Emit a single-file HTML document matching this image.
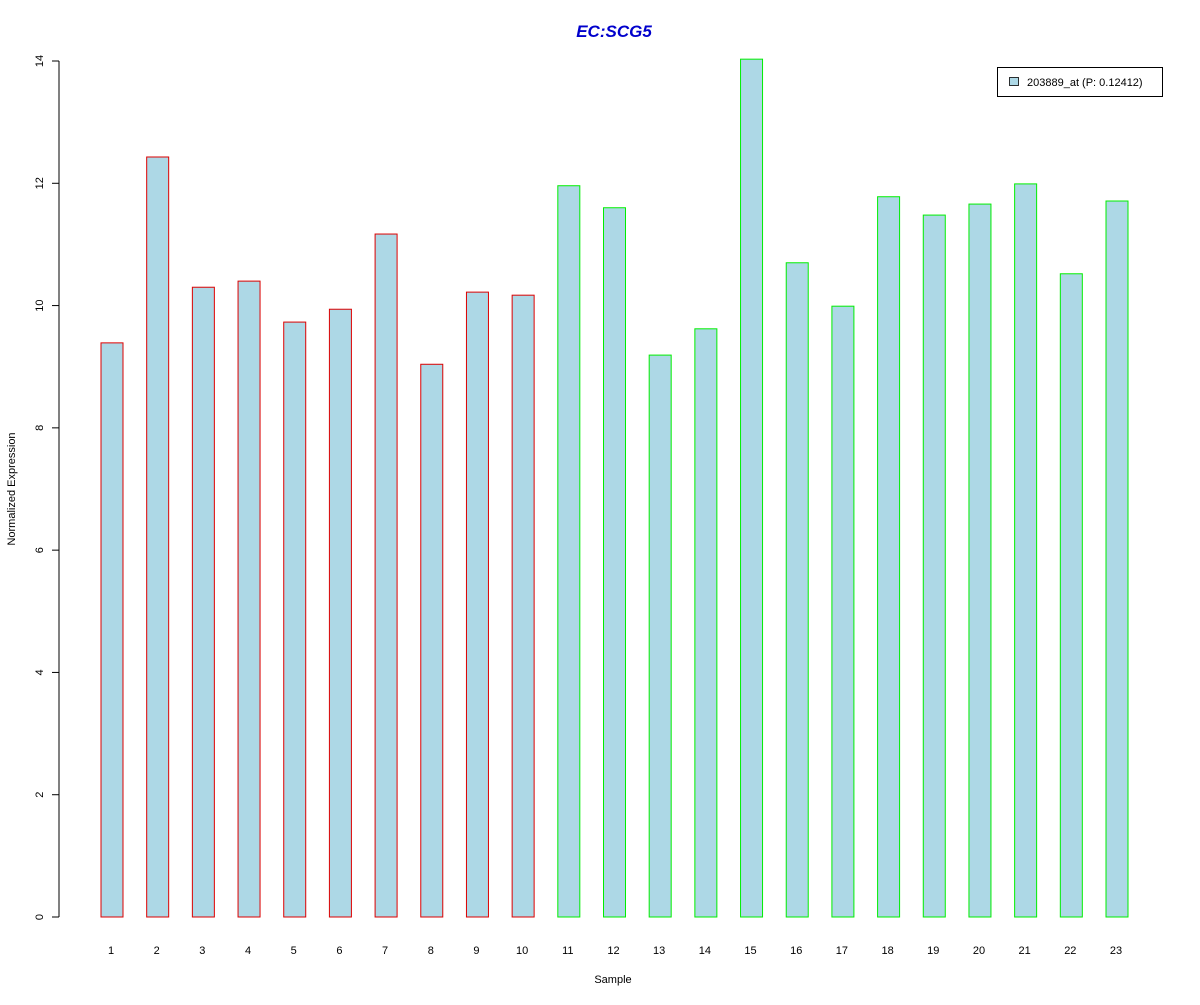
<!DOCTYPE html>
<html><head><meta charset="utf-8"><style>
body{margin:0;background:#fff;}
svg text{font-family:"Liberation Sans",Arial,sans-serif;}
</style></head><body>
<svg id="chart" width="1200" height="1000" xmlns="http://www.w3.org/2000/svg">
<rect width="1200" height="1000" fill="#fff"/>
<text x="614" y="37" text-anchor="middle" font-size="17" font-weight="bold" font-style="italic" fill="#0000cc">EC:SCG5</text>
<text transform="translate(15,489) rotate(-90)" text-anchor="middle" font-size="11">Normalized Expression</text>
<text x="613" y="983" text-anchor="middle" font-size="11">Sample</text>
<line x1="59" y1="61" x2="59" y2="917" stroke="#000"/>
<g id="yticks"></g>
<g id="bars"></g>
<g id="xlabels"></g>
<g>
<rect x="997.5" y="67.5" width="165" height="29" fill="#fff" stroke="#000"/>
<rect x="1009.5" y="77.5" width="9" height="8" fill="#add8e6" stroke="#000" stroke-width="0.8"/>
<text x="1027" y="86" font-size="11">203889_at (P: 0.12412)</text>
</g>
</svg>
<script>
const categories=["1","2","3","4","5","6","7","8","9","10","11","12","13","14","15","16","17","18","19","20","21","22","23"];
const values=[9.39,12.43,10.30,10.40,9.73,9.94,11.17,9.04,10.22,10.17,11.96,11.60,9.19,9.62,14.03,10.70,9.99,11.78,11.48,11.66,11.99,10.52,11.71];
const groups=["A","A","A","A","A","A","A","A","A","A","B","B","B","B","B","B","B","B","B","B","B","B","B"];
const yTicks=[0,2,4,6,8,10,12,14];
const NS="http://www.w3.org/2000/svg";
function y(v){return 917-v*(856/14);}
function x(i){return 112+i*(1005/22);}
const yt=document.getElementById('yticks');
yTicks.forEach(t=>{
  const l=document.createElementNS(NS,'line');
  
  
  l.setAttribute('x1',52);l.setAttribute('x2',59);l.setAttribute('y1',y(t));l.setAttribute('y2',y(t));l.setAttribute('stroke','#000');
  yt.appendChild(l);
  const tx=document.createElementNS(NS,'text');
  
  
  tx.setAttribute('transform','translate(43,'+y(t)+') rotate(-90)');
  tx.setAttribute('text-anchor','middle');tx.setAttribute('font-size','11');
  tx.textContent=t;yt.appendChild(tx);
});
const bg=document.getElementById('bars'),xl=document.getElementById('xlabels');
values.forEach((v,i)=>{
  const r=document.createElementNS(NS,'rect');
  
  
  r.setAttribute('x',x(i)-11);r.setAttribute('width',22);
  r.setAttribute('y',y(v));r.setAttribute('height',917-y(v));
  r.setAttribute('fill','#add8e6');
  r.setAttribute('stroke',groups[i]==='A'?'#dd0000':'#00ee00');
  bg.appendChild(r);
  const t=document.createElementNS(NS,'text');
  
  
  t.setAttribute('x',x(i)-1);t.setAttribute('y',954);t.setAttribute('text-anchor','middle');t.setAttribute('font-size','11');
  t.textContent=categories[i];xl.appendChild(t);
});
</script>
</body></html>
